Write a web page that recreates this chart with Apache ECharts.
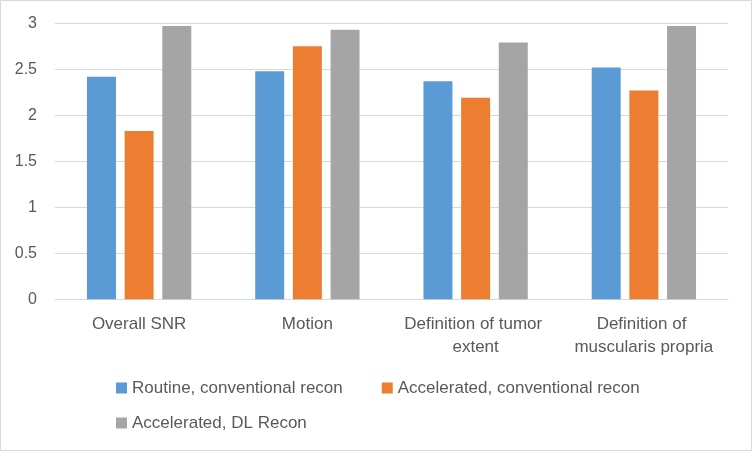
<!DOCTYPE html>
<html>
<head>
<meta charset="utf-8">
<script src="https://cdn.jsdelivr.net/npm/echarts@6/dist/echarts.min.js"></script>
<style>
html,body{margin:0;padding:0;background:#fff;}
#chart{width:752px;height:451px;}
</style>
</head>
<body>
<div id="chart"></div>
<script>
var categories = ['Overall SNR', 'Motion', 'Definition of tumor extent', 'Definition of muscularis propria'];
var routineConv = [2.42, 2.48, 2.37, 2.52];
var accelConv = [1.83, 2.75, 2.19, 2.27];
var accelDL = [2.97, 2.93, 2.79, 2.97];
var seriesNames = ['Routine, conventional recon', 'Accelerated, conventional recon', 'Accelerated, DL Recon'];
var yTicks = {min: 0, max: 3, interval: 0.5};

var FONT = '"Liberation Sans", Arial, sans-serif';
var TXT = '#595959';
var chart = echarts.init(document.getElementById('chart'), null, {renderer: 'canvas'});
chart.setOption({
  animation: false,
  backgroundColor: '#ffffff',
  graphic: [{
    type: 'rect', silent: true, z: 100,
    shape: {x: 0.5, y: 0.5, width: 751, height: 450},
    style: {fill: 'none', stroke: '#D9D9D9', lineWidth: 1}
  }],
  grid: {left: 55, right: 24, top: 23.3, bottom: 151.7, containLabel: false},
  legend: [{
    data: [seriesNames[0], seriesNames[1]],
    left: 116, top: 378, padding: 0, orient: 'horizontal',
    itemWidth: 11, itemHeight: 11, itemGap: 39, icon: 'rect',
    textStyle: {fontFamily: FONT, fontSize: 17, color: TXT, lineHeight: 20}
  }, {
    data: [seriesNames[2]],
    left: 116, top: 413, padding: 0, orient: 'horizontal',
    itemWidth: 11, itemHeight: 11, icon: 'rect',
    textStyle: {fontFamily: FONT, fontSize: 17, color: TXT, lineHeight: 20}
  }],
  xAxis: {
    type: 'category',
    data: categories,
    axisTick: {show: false},
    axisLine: {show: true, lineStyle: {color: '#D9D9D9', width: 1}},
    axisLabel: {
      interval: 0, margin: 14, color: TXT, fontFamily: FONT, fontSize: 17,
      lineHeight: 22.5, width: 160, overflow: 'break', align: 'center'
    }
  },
  yAxis: {
    type: 'value',
    min: yTicks.min, max: yTicks.max, interval: yTicks.interval,
    axisLine: {show: false},
    axisTick: {show: false},
    splitLine: {show: true, lineStyle: {color: '#D9D9D9', width: 1}},
    axisLabel: {margin: 18, color: TXT, fontFamily: FONT, fontSize: 16}
  },
  series: [
    {name: seriesNames[0], type: 'bar', data: routineConv, barCategoryGap: '38%', barGap: '30%', itemStyle: {color: '#5B9BD5'}},
    {name: seriesNames[1], type: 'bar', data: accelConv, barCategoryGap: '38%', barGap: '30%', itemStyle: {color: '#ED7D31'}},
    {name: seriesNames[2], type: 'bar', data: accelDL, barCategoryGap: '38%', barGap: '30%', itemStyle: {color: '#A5A5A5'}}
  ]
});
</script>
</body>
</html>
